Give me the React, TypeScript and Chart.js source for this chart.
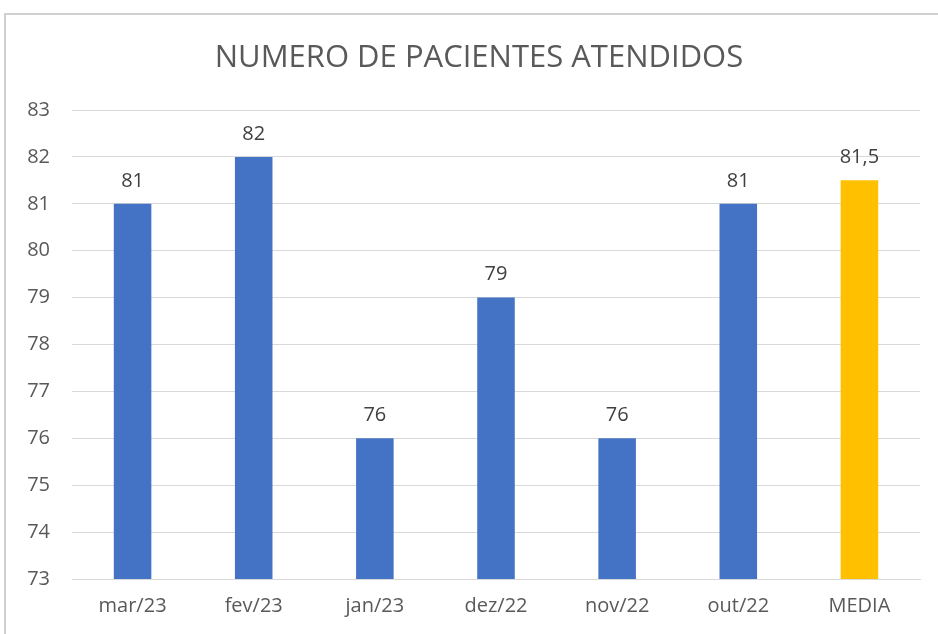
import React, { useEffect, useRef } from "react";
import { Chart, registerables } from "chart.js";

Chart.register(...registerables);

const categories = ["mar/23", "fev/23", "jan/23", "dez/22", "nov/22", "out/22", "MEDIA"];
const values = [81, 82, 76, 79, 76, 81, 81.5];
const barColors = ["#4472C4", "#4472C4", "#4472C4", "#4472C4", "#4472C4", "#4472C4", "#FFC000"];
const valueLabels = ["81", "82", "76", "79", "76", "81", "81,5"];
const title = "NUMERO DE PACIENTES ATENDIDOS";
const yMin = 73;
const yMax = 83;

const FONT = "'Open Sans', 'Noto Sans', sans-serif";

export default function App() {
  const ref = useRef<HTMLCanvasElement>(null);

  useEffect(() => {
    if (!ref.current) return;
    const labelPlugin = {
      id: "valueLabels",
      afterDatasetsDraw(chart: any) {
        const ctx = chart.ctx;
        const meta = chart.getDatasetMeta(0);
        ctx.save();
        ctx.font = `20px ${FONT}`;
        ctx.fillStyle = "#404040";
        ctx.textAlign = "center";
        ctx.textBaseline = "middle";
        meta.data.forEach((bar: any, i: number) => {
          ctx.fillText(valueLabels[i], bar.x, bar.y - 23);
        });
        ctx.restore();
      },
    };
    const titlePlugin = {
      id: "titleDraw",
      afterDraw(chart: any) {
        const ctx = chart.ctx;
        ctx.save();
        ctx.font = `31px ${FONT}`;
        ctx.fillStyle = "#595959";
        ctx.textAlign = "center";
        ctx.textBaseline = "middle";
        ctx.fillText(title, 479, 58);
        ctx.restore();
      },
    };
    const chart = new Chart(ref.current, {
      type: "bar",
      data: {
        labels: categories,
        datasets: [
          {
            data: values,
            backgroundColor: barColors,
            barPercentage: 0.62,
            categoryPercentage: 0.5,
          },
        ],
      },
      options: {
        responsive: false,
        animation: false,
        layout: { padding: { top: 110, right: 18, bottom: 0, left: 0 } },
        plugins: {
          legend: { display: false },
          title: { display: false },
          tooltip: { enabled: false },
        },
        scales: {
          x: {
            grid: { display: false, drawTicks: false },
            border: { display: true, color: "#d9d9d9", width: 1 },
            ticks: {
              color: "#595959",
              font: { family: FONT, size: 20 },
              padding: 15,
              maxRotation: 0,
            },
            afterFit(scale: any) {
              scale.height = 55;
            },
          },
          y: {
            min: yMin,
            max: yMax,
            grid: { color: "#d9d9d9", drawTicks: false },
            border: { display: false },
            ticks: {
              stepSize: 1,
              color: "#595959",
              font: { family: FONT, size: 20 },
              padding: 22,
            },
            afterFit(scale: any) {
              scale.width = 72;
            },
          },
        },
      },
      plugins: [labelPlugin, titlePlugin],
    });
    return () => chart.destroy();
  }, []);

  return (
    <div style={{ position: "fixed", left: 0, top: 0, width: 938, height: 634, background: "#fff", overflow: "hidden" }}>
      <div
        style={{
          position: "absolute",
          left: 4,
          top: 13,
          width: 980,
          height: 700,
          borderLeft: "2px solid #d0d0d0",
          borderTop: "2px solid #d0d0d0",
          boxSizing: "border-box",
        }}
      />
      <canvas ref={ref} width={938} height={634} style={{ position: "absolute", left: 0, top: 0 }} />
    </div>
  );
}
